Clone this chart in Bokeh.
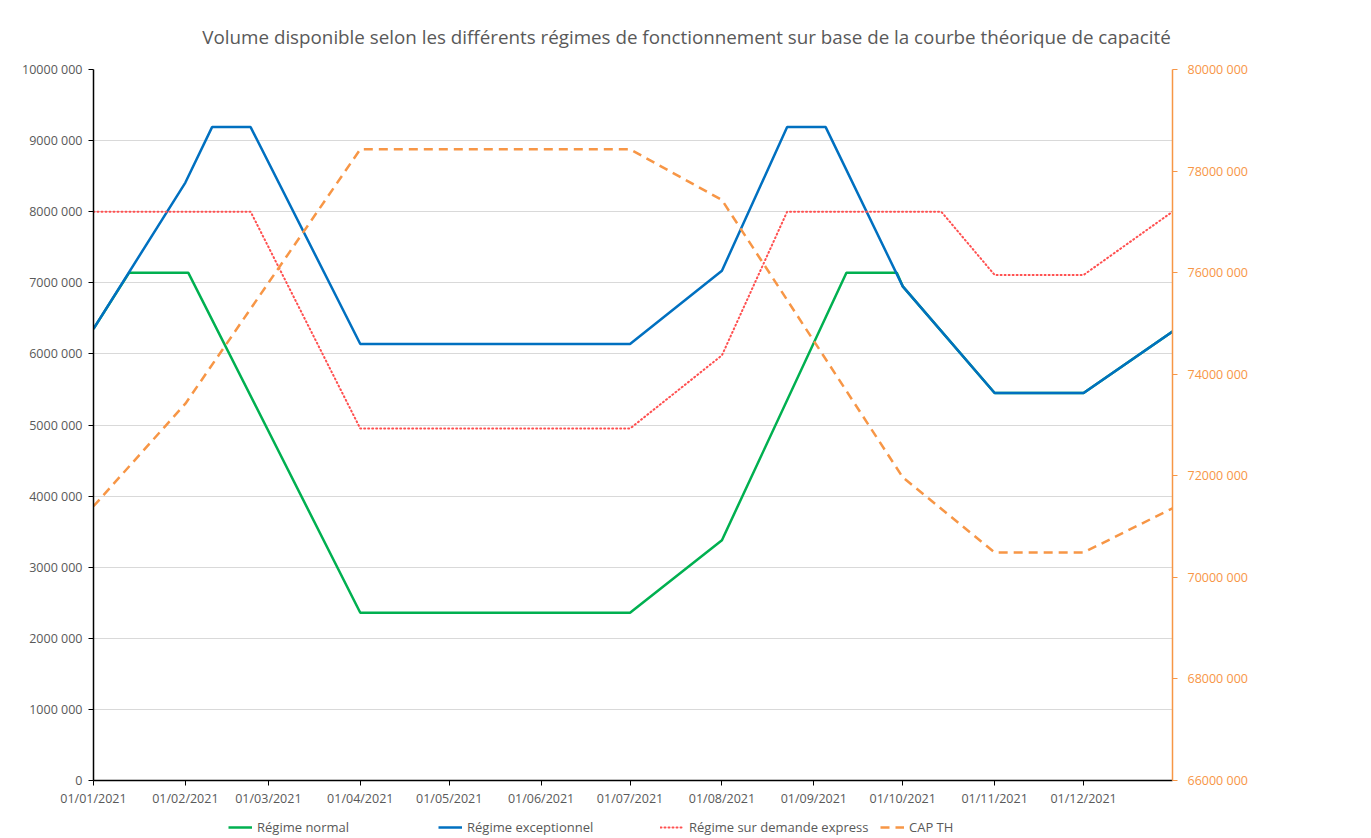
from datetime import datetime
import pandas as pd
from bokeh.plotting import figure
from bokeh.layouts import column
from bokeh.models import (Range1d, LinearAxis, FixedTicker, DatetimeTickFormatter,
                          Legend, LegendItem, Label)
from bokeh.embed import file_html
from bokeh.resources import INLINE

TITLE = "Volume disponible selon les différents régimes de fonctionnement sur base de la courbe théorique de capacité"

# ---- data ----
normal_dates = ["2021-01-01", "2021-01-13", "2021-02-02", "2021-04-01", "2021-07-01", "2021-08-01",
                "2021-09-12", "2021-09-29", "2021-10-01", "2021-11-01", "2021-12-01", "2021-12-31"]
normal_vals = [6353000, 7140000, 7140000, 2360000, 2360000, 3380000,
               7140000, 7140000, 6950000, 5450000, 5450000, 6315000]

exc_dates = ["2021-01-01", "2021-02-01", "2021-02-10", "2021-02-23", "2021-04-01", "2021-07-01",
             "2021-08-01", "2021-08-23", "2021-09-05", "2021-10-01", "2021-11-01", "2021-12-01",
             "2021-12-31"]
exc_vals = [6353000, 8410000, 9190000, 9190000, 6140000, 6140000,
            7170000, 9190000, 9190000, 6950000, 5450000, 5450000,
            6315000]

express_dates = ["2021-01-01", "2021-02-23", "2021-04-01", "2021-07-01", "2021-08-01", "2021-08-23",
                 "2021-10-14", "2021-11-01", "2021-12-01", "2021-12-31"]
express_vals = [8000000, 8000000, 4950000, 4950000, 5980000, 8000000,
                8000000, 7110000, 7110000, 8000000]

cap_dates = ["2021-01-01", "2021-02-01", "2021-04-01", "2021-07-01", "2021-08-01", "2021-10-01",
             "2021-11-01", "2021-12-01", "2021-12-31"]
cap_vals = [71400000, 73420000, 78430000, 78430000, 77430000, 71970000,
            70490000, 70490000, 71360000]

series_names = ["Régime normal", "Régime exceptionnel", "Régime sur demande express", "CAP TH"]

left_ticks = [0, 1000000, 2000000, 3000000, 4000000, 5000000, 6000000, 7000000, 8000000, 9000000, 10000000]
left_labels = ["0", "1000 000", "2000 000", "3000 000", "4000 000", "5000 000", "6000 000",
               "7000 000", "8000 000", "9000 000", "10000 000"]
right_ticks = [66000000, 68000000, 70000000, 72000000, 74000000, 76000000, 78000000, 80000000]
right_labels = ["66000 000", "68000 000", "70000 000", "72000 000", "74000 000", "76000 000",
                "78000 000", "80000 000"]
x_tick_dates = ["2021-01-01", "2021-02-01", "2021-03-01", "2021-04-01", "2021-05-01", "2021-06-01",
                "2021-07-01", "2021-08-01", "2021-09-01", "2021-10-01", "2021-11-01", "2021-12-01"]

# ---- styling ----
FONT = "Open Sans"
GREY = "#595959"
ORANGE = "#F79646"
W = 1362

styles = [
    dict(line_color="#00B050", line_width=2.5),
    dict(line_color="#0070C0", line_width=2.5),
    dict(line_color="#FF5050", line_width=2, line_dash="1 3", line_cap="round"),
    dict(line_color=ORANGE, line_width=2.5, line_dash="9 6"),
]


def blank(height):
    f = figure(width=W, height=height, x_range=Range1d(0, 1), y_range=Range1d(0, 1),
               output_backend="svg", toolbar_location=None,
               x_axis_location=None, y_axis_location=None,
               min_border=0, min_border_left=0, min_border_right=0,
               min_border_top=0, min_border_bottom=0)
    f.outline_line_color = None
    f.xgrid.visible = False
    f.ygrid.visible = False
    return f


# ---- title strip (its frame is aligned with the chart frame, which starts at x=93) ----
tf = blank(50)
tf.add_layout(Label(x=593, y=14, x_units="screen", y_units="screen", text=TITLE,
                    text_align="center", text_baseline="middle", text_font=FONT,
                    text_font_size="18.8px", text_color=GREY))

# ---- main chart ----
p = figure(frame_width=1079, frame_height=711, x_axis_type="datetime",
           x_range=Range1d(datetime(2021, 1, 1), datetime(2021, 12, 31)),
           y_range=Range1d(0, 10000000),
           output_backend="svg", toolbar_location=None,
           min_border_left=93, min_border_right=190, min_border_top=19, min_border_bottom=27)
p.extra_y_ranges = {"cap": Range1d(66000000, 80000000)}
p.outline_line_color = None
p.background_fill_color = "white"
p.border_fill_color = "white"

d = lambda a: pd.to_datetime(a)
p.line(d(normal_dates), normal_vals, **styles[0])
p.line(d(exc_dates), exc_vals, **styles[1])
p.line(d(express_dates), express_vals, **styles[2])
p.line(d(cap_dates), cap_vals, y_range_name="cap", **styles[3])

# x axis
xa = p.xaxis[0]
xa.ticker = FixedTicker(ticks=[pd.Timestamp(t).value // 10**6 for t in x_tick_dates])
fmt = "%d/%m/%Y"
xa.formatter = DatetimeTickFormatter(microseconds=fmt, milliseconds=fmt, seconds=fmt, minsec=fmt,
                                     minutes=fmt, hourmin=fmt, hours=fmt, days=fmt, months=fmt,
                                     years=fmt)
xa.axis_line_color = "black"
xa.axis_line_width = 1.5
xa.major_tick_line_color = "black"
xa.major_tick_out = 5
xa.major_tick_in = 0
xa.minor_tick_line_color = None
xa.major_label_text_font = FONT
xa.major_label_text_font_size = "12.5px"
xa.major_label_text_color = GREY
xa.major_label_standoff = 4

# left axis
ya = p.yaxis[0]
ya.ticker = FixedTicker(ticks=left_ticks)
ya.major_label_overrides = {t: l for t, l in zip(left_ticks, left_labels)}
ya.axis_line_color = "black"
ya.axis_line_width = 1.5
ya.major_tick_line_color = "black"
ya.major_tick_out = 5
ya.major_tick_in = 0
ya.minor_tick_line_color = None
ya.major_label_text_font = FONT
ya.major_label_text_font_size = "12.5px"
ya.major_label_text_color = GREY
ya.major_label_standoff = 6

# right axis
ra = LinearAxis(y_range_name="cap", ticker=FixedTicker(ticks=right_ticks),
                major_label_overrides={t: l for t, l in zip(right_ticks, right_labels)})
ra.axis_line_color = ORANGE
ra.axis_line_width = 1.5
ra.major_tick_line_color = ORANGE
ra.major_tick_out = 5
ra.major_tick_in = 0
ra.minor_tick_line_color = None
ra.major_label_text_font = FONT
ra.major_label_text_font_size = "12.5px"
ra.major_label_text_color = ORANGE
ra.major_label_standoff = 10
p.add_layout(ra, "right")

# grid
p.xgrid.visible = False
p.ygrid.ticker = FixedTicker(ticks=left_ticks)
p.ygrid.grid_line_color = "#D9D9D9"
p.ygrid.grid_line_width = 1

# ---- legend strip (keys use the same line styles; their lines lie outside the strip's range) ----
lf = blank(30)
legend_x = [135, 345, 567, 787]
for name, st, lx in zip(series_names, styles, legend_x):
    key = lf.line([5, 6], [5, 6], **st)
    lf.add_layout(Legend(items=[LegendItem(label=name, renderers=[key])],
                         location=(lx, 3), orientation="horizontal",
                         border_line_color=None, background_fill_alpha=0,
                         glyph_width=24, glyph_height=12, label_height=12, label_standoff=5,
                         label_text_font=FONT, label_text_font_size="13px",
                         label_text_color=GREY, padding=0, margin=0), "center")

layout = column(tf, p, lf, spacing=0)
open("out.html", "w").write(file_html(layout, INLINE))
